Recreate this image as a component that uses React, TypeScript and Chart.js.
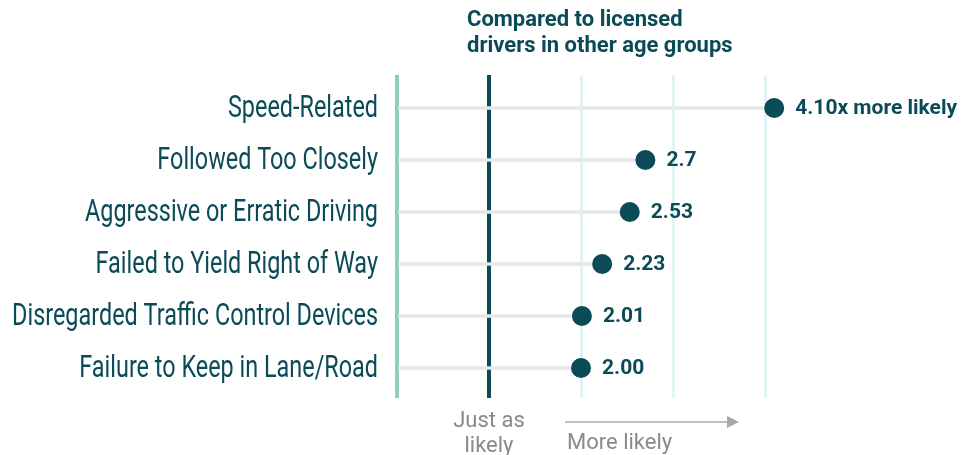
import React, { useEffect, useRef } from "react";
import { Chart, registerables } from "chart.js";

Chart.register(...registerables);

const categories = [
  "Speed-Related",
  "Followed Too Closely",
  "Aggressive or Erratic Driving",
  "Failed to Yield Right of Way",
  "Disregarded Traffic Control Devices",
  "Failure to Keep in Lane/Road",
];
const values = [4.1, 2.7, 2.53, 2.23, 2.01, 2.0];
const valueLabels = ["4.10x more likely", "2.7", "2.53", "2.23", "2.01", "2.00"];
const titleLines = ["Compared to licensed", "drivers in other age groups"];
const baselineLabel = ["Just as", "likely"];
const moreLabel = "More likely";

const DARK = "#0b4a57";
const TEAL = "#8fcdbf";
const LIGHT = "#e2f3f6";
const STEM = "#e8e8e8";
const GRAY = "#8a8a8a";

export default function App() {
  const ref = useRef<HTMLCanvasElement | null>(null);

  useEffect(() => {
    if (!ref.current) return;

    const annotations = {
      id: "annotations",
      afterDatasetsDraw(chart: any) {
        const ctx = chart.ctx;
        const meta = chart.getDatasetMeta(1);
        ctx.save();
        ctx.fillStyle = DARK;
        ctx.font = "bold 21px Roboto";
        ctx.textAlign = "left";
        ctx.textBaseline = "middle";
        meta.data.forEach((pt: any, i: number) => {
          ctx.fillText(valueLabels[i], pt.x + 21, pt.y + 1);
        });
        ctx.restore();
      },
      afterDraw(chart: any) {
        const ctx = chart.ctx;
        const xs = chart.scales.x;
        const ys = chart.scales.y;
        const x1 = xs.getPixelForValue(1);
        const area = chart.chartArea;
        ctx.save();
        // category labels (condensed)
        ctx.fillStyle = DARK;
        ctx.font = "31px Roboto";
        ctx.textAlign = "right";
        ctx.textBaseline = "middle";
        categories.forEach((c, i) => {
          ctx.save();
          ctx.translate(area.left - 19, ys.getPixelForValue(i) + 1);
          ctx.scale(0.755, 1);
          ctx.fillText(c, 0, 0);
          ctx.restore();
        });
        // title
        ctx.fillStyle = DARK;
        ctx.font = "bold 22px Roboto";
        ctx.textAlign = "left";
        ctx.textBaseline = "middle";
        ctx.fillText(titleLines[0], x1 - 22, 20);
        ctx.fillText(titleLines[1], x1 - 22, 46);
        // baseline label
        ctx.fillStyle = GRAY;
        ctx.font = "22px Roboto";
        ctx.textAlign = "center";
        ctx.fillText(baselineLabel[0], x1, area.bottom + 23);
        ctx.fillText(baselineLabel[1], x1, area.bottom + 48);
        // arrow
        const ax0 = x1 + 76;
        const ax1 = x1 + 250;
        const ay = area.bottom + 24;
        ctx.strokeStyle = "#a8a8a8";
        ctx.fillStyle = "#a8a8a8";
        ctx.lineWidth = 1.5;
        ctx.beginPath();
        ctx.moveTo(ax0, ay);
        ctx.lineTo(ax1 - 10, ay);
        ctx.stroke();
        ctx.beginPath();
        ctx.moveTo(ax1, ay);
        ctx.lineTo(ax1 - 12, ay - 6);
        ctx.lineTo(ax1 - 12, ay + 6);
        ctx.closePath();
        ctx.fill();
        ctx.fillStyle = GRAY;
        ctx.textAlign = "left";
        ctx.fillText(moreLabel, ax0 + 2, area.bottom + 45);
        ctx.restore();
      },
    };

    const hiddenX = (z: number, colorFn: (v: number) => string, width: number) => ({
      type: "linear",
      min: 0,
      max: 5,
      position: "bottom",
      offset: false,
      z,
      ticks: { display: false, stepSize: 1 },
      border: { display: false },
      grid: {
        offset: false,
        drawTicks: false,
        lineWidth: width,
        color: (c: any) => (c.tick ? colorFn(c.tick.value) : "rgba(0,0,0,0)"),
      },
      afterFit: (s: any) => {
        s.height = 0;
      },
    });

    const chart = new Chart(ref.current, {
      type: "bar",
      data: {
        datasets: [
          {
            type: "bar",
            data: values.map((v, i) => ({ x: v, y: i })),
            backgroundColor: STEM,
            barThickness: 3,
            order: 1,
            xAxisID: "x",
            yAxisID: "y",
          } as any,
          {
            type: "scatter",
            data: values.map((v, i) => ({ x: v, y: i })),
            backgroundColor: DARK,
            borderColor: DARK,
            pointRadius: 10,
            pointHoverRadius: 10,
            borderWidth: 0,
            showLine: false,
            order: 0,
            xAxisID: "x",
            yAxisID: "y",
          } as any,
        ],
      },
      plugins: [annotations],
      options: {
        indexAxis: "y",
        responsive: false,
        animation: false,
        events: [],
        layout: { padding: { top: 75, bottom: 57, right: 104, left: 0 } },
        plugins: {
          legend: { display: false },
          tooltip: { enabled: false },
          title: { display: false },
        },
        scales: {
          x: hiddenX(0, (v) => (v >= 2 && v <= 4 ? LIGHT : "rgba(0,0,0,0)"), 3),
          x2: hiddenX(1, (v) => (v === 0 ? TEAL : v === 1 ? DARK : "rgba(0,0,0,0)"), 4),
          y: {
            type: "linear",
            reverse: true,
            offset: false,
            min: -0.635,
            max: 5.577,
            position: "left",
            ticks: { display: false },
            border: { display: false },
            grid: { display: false, drawTicks: false, offset: false },
            afterFit: (s: any) => {
              s.width = 397;
            },
          },
        },
      } as any,
    });

    return () => chart.destroy();
  }, []);

  return (
    <div style={{ position: "fixed", left: 0, top: 0, width: 961, height: 455, background: "#fff" }}>
      <canvas ref={ref} width={961} height={455} style={{ display: "block" }} />
    </div>
  );
}
